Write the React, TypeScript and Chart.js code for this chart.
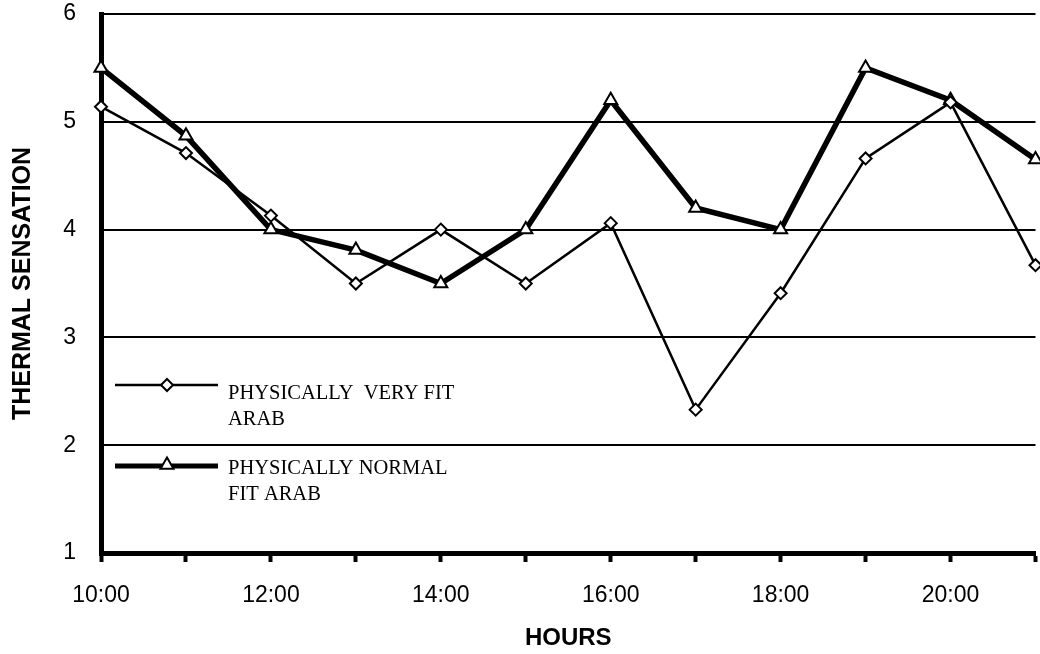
import React, { useEffect, useRef } from "react";
import { Chart, registerables } from "chart.js";

Chart.register(...registerables);

const hours = ["10:00", "11:00", "12:00", "13:00", "14:00", "15:00", "16:00", "17:00", "18:00", "19:00", "20:00", "21:00"];
const veryFitArab = [5.14, 4.71, 4.13, 3.5, 4.0, 3.5, 4.06, 2.33, 3.41, 4.66, 5.18, 3.67];
const normalFitArab = [5.5, 4.87, 4.0, 3.81, 3.5, 4.0, 5.2, 4.2, 4.0, 5.5, 5.2, 4.65];
const legendVeryFit = ["PHYSICALLY  VERY FIT", "ARAB"];
const legendNormalFit = ["PHYSICALLY NORMAL", "FIT ARAB"];
const yTitle = "THERMAL SENSATION";
const xTitle = "HOURS";

function drawDiamond(ctx: CanvasRenderingContext2D, x: number, y: number, r: number) {
  ctx.beginPath();
  ctx.moveTo(x, y - r);
  ctx.lineTo(x + r, y);
  ctx.lineTo(x, y + r);
  ctx.lineTo(x - r, y);
  ctx.closePath();
  ctx.fillStyle = "#fff";
  ctx.fill();
  ctx.lineWidth = 2;
  ctx.strokeStyle = "#000";
  ctx.stroke();
}

function drawTriangle(ctx: CanvasRenderingContext2D, x: number, y: number, r: number) {
  ctx.beginPath();
  ctx.moveTo(x, y - r);
  ctx.lineTo(x + r * 0.866, y + r / 2);
  ctx.lineTo(x - r * 0.866, y + r / 2);
  ctx.closePath();
  ctx.fillStyle = "#fff";
  ctx.fill();
  ctx.lineWidth = 2;
  ctx.strokeStyle = "#000";
  ctx.stroke();
}

const legendPlugin = {
  id: "customLegend",
  afterDatasetsDraw(chart: any) {
    const ctx = chart.ctx as CanvasRenderingContext2D;
    ctx.save();
    ctx.strokeStyle = "#000";
    ctx.lineWidth = 2.5;
    ctx.beginPath();
    ctx.moveTo(115, 385);
    ctx.lineTo(218, 385);
    ctx.stroke();
    drawDiamond(ctx, 167, 385, 6);
    ctx.lineWidth = 5;
    ctx.beginPath();
    ctx.moveTo(115, 466);
    ctx.lineTo(218, 466);
    ctx.stroke();
    drawTriangle(ctx, 167, 465, 7.5);

    ctx.fillStyle = "#000";
    ctx.font = "20.5px 'Liberation Serif', serif";
    ctx.textAlign = "left";
    ctx.textBaseline = "alphabetic";
    ctx.fillText(legendVeryFit[0], 228, 399);
    ctx.fillText(legendVeryFit[1], 228, 425);
    ctx.fillText(legendNormalFit[0], 228, 474);
    ctx.fillText(legendNormalFit[1], 228, 500);
    ctx.restore();
  },
};

export default function App() {
  const canvasRef = useRef<HTMLCanvasElement | null>(null);

  useEffect(() => {
    const canvas = canvasRef.current;
    if (!canvas) return;
    const chart = new Chart(canvas, {
      type: "line",
      data: {
        labels: hours,
        datasets: [
          {
            label: legendVeryFit.join(" "),
            data: veryFitArab,
            borderColor: "#000",
            borderWidth: 2.5,
            pointStyle: "rectRot",
            pointRadius: 6,
            pointBackgroundColor: "#fff",
            pointBorderColor: "#000",
            pointBorderWidth: 2,
            tension: 0,
            clip: false,
            order: 1,
          },
          {
            label: legendNormalFit.join(" "),
            data: normalFitArab,
            borderColor: "#000",
            borderWidth: 5.5,
            pointStyle: "triangle",
            pointRadius: 7.5,
            pointBackgroundColor: "#fff",
            pointBorderColor: "#000",
            pointBorderWidth: 2,
            tension: 0,
            clip: false,
            order: 2,
          },
        ],
      },
      options: {
        responsive: false,
        animation: false,
        devicePixelRatio: 1,
        layout: { padding: { left: 0, right: 0, top: 14, bottom: 0 } },
        plugins: {
          legend: { display: false },
          tooltip: { enabled: false },
        },
        scales: {
          x: {
            type: "category",
            offset: false,
            afterFit: (scale: any) => {
              scale.height = 101;
              scale.paddingLeft = 0;
              scale.paddingRight = 0;
            },
            border: { display: true, color: "#000", width: 5 },
            grid: {
              display: true,
              drawOnChartArea: false,
              drawTicks: true,
              tickLength: 9,
              tickWidth: 4,
              tickColor: "#000",
            },
            ticks: {
              autoSkip: false,
              maxRotation: 0,
              minRotation: 0,
              padding: 20,
              color: "#000",
              font: { family: "'Liberation Sans', Arial, sans-serif", size: 23 },
              callback: function (this: any, _v: any, i: number) {
                return i % 2 === 0 && i < hours.length - 1 ? hours[i] : "";
              },
            },
            title: {
              display: true,
              text: xTitle,
              color: "#000",
              font: { family: "'Liberation Sans', Arial, sans-serif", size: 24, weight: "bold" },
              padding: { top: 0, bottom: 1 },
            },
          },
          y: {
            min: 1,
            max: 6,
            afterFit: (scale: any) => {
              scale.width = 101;
              scale.paddingTop = 0;
              scale.paddingBottom = 0;
            },
            border: { display: true, color: "#000", width: 5 },
            grid: {
              display: true,
              color: "#000",
              lineWidth: 2,
              drawTicks: false,
            },
            ticks: {
              stepSize: 1,
              padding: 25,
              color: "#000",
              font: { family: "'Liberation Sans', Arial, sans-serif", size: 23 },
            },
            title: {
              display: true,
              text: yTitle,
              color: "#000",
              font: { family: "'Liberation Sans', Arial, sans-serif", size: 25, weight: "bold" },
              padding: { top: 8, bottom: 0 },
            },
          },
        },
      },
      plugins: [legendPlugin],
    });
    return () => chart.destroy();
  }, []);

  return (
    <div style={{ position: "fixed", left: 0, top: 0, width: 1040, height: 654, overflow: "hidden", background: "#fff" }}>
      <canvas ref={canvasRef} width={1045} height={654} style={{ display: "block" }} />
    </div>
  );
}
